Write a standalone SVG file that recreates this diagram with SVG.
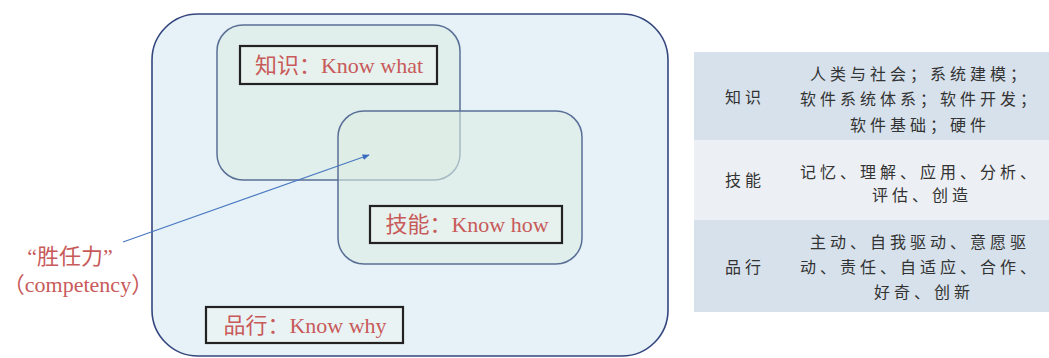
<svg xmlns="http://www.w3.org/2000/svg" width="1049" height="358" viewBox="0 0 1049 358">
<defs>
<style>
.outer{fill:#e6f2f8;stroke:#34467e;stroke-width:1.6}
.inner{fill:#dcece2;fill-opacity:0.6;stroke:#5a6f96;stroke-width:1.5}
.lbl{fill:#eef3ef;fill-opacity:0.5;stroke:#222;stroke-width:2.2}
.red{font-family:"Liberation Serif","Noto Sans CJK SC",serif;font-size:22px;fill:#c85a5a;text-anchor:middle}
.tb{font-family:"Noto Sans CJK SC",sans-serif;font-size:16px;fill:#333;text-anchor:middle;letter-spacing:4px}
.conn{stroke:#4a78c0;stroke-width:1.2;fill:none}
</style>
<marker id="ah" viewBox="0 0 10 10" refX="9" refY="5" markerWidth="6" markerHeight="6" orient="auto">
<path d="M0,1 L10,5 L0,9 z" fill="#3a6cc0"/>
</marker>
</defs>
<rect width="1049" height="358" fill="#ffffff"/>
<g id="outer">
<rect class="outer" x="152" y="14" width="516" height="342" rx="46"/>
</g>
<g id="knowledge">
<rect class="inner" x="217" y="25" width="243" height="155" rx="26"/>
<rect class="lbl" x="240" y="46" width="197" height="38"/>
<text class="red" x="339" y="73">知识：Know what</text>
</g>
<g id="skill">
<rect class="inner" x="338" y="111" width="244" height="153" rx="26"/>
<rect class="lbl" x="370" y="206" width="192" height="37"/>
<text class="red" x="467" y="232">技能：Know how</text>
</g>
<g id="conduct">
<rect class="lbl" x="206" y="307" width="197" height="36"/>
<text class="red" x="305" y="333">品行：Know why</text>
</g>
<g id="competency">
<text class="red" x="70" y="264">“胜任力”</text>
<text class="red" x="78" y="292">（competency）</text>
</g>
<g id="connectors">
<line class="conn" x1="123" y1="242" x2="369" y2="155" marker-end="url(#ah)"/>
</g>
<g id="table">
<rect x="694" y="52" width="355" height="88" fill="#d6e1eb"/>
<rect x="694" y="140" width="355" height="80" fill="#eceff3"/>
<rect x="694" y="220" width="355" height="92" fill="#d6e1eb"/>
<text class="tb" x="745" y="103">知识</text>
<text class="tb" x="920" y="80">人类与社会；系统建模；</text>
<text class="tb" x="920" y="105">软件系统体系；软件开发；</text>
<text class="tb" x="920" y="131">软件基础；硬件</text>
<text class="tb" x="745" y="186">技能</text>
<text class="tb" x="920" y="178">记忆、理解、应用、分析、</text>
<text class="tb" x="922" y="201">评估、创造</text>
<text class="tb" x="745" y="273">品行</text>
<text class="tb" x="920" y="248">主动、自我驱动、意愿驱</text>
<text class="tb" x="920" y="273">动、责任、自适应、合作、</text>
<text class="tb" x="924" y="298">好奇、创新</text>
</g>
</svg>
